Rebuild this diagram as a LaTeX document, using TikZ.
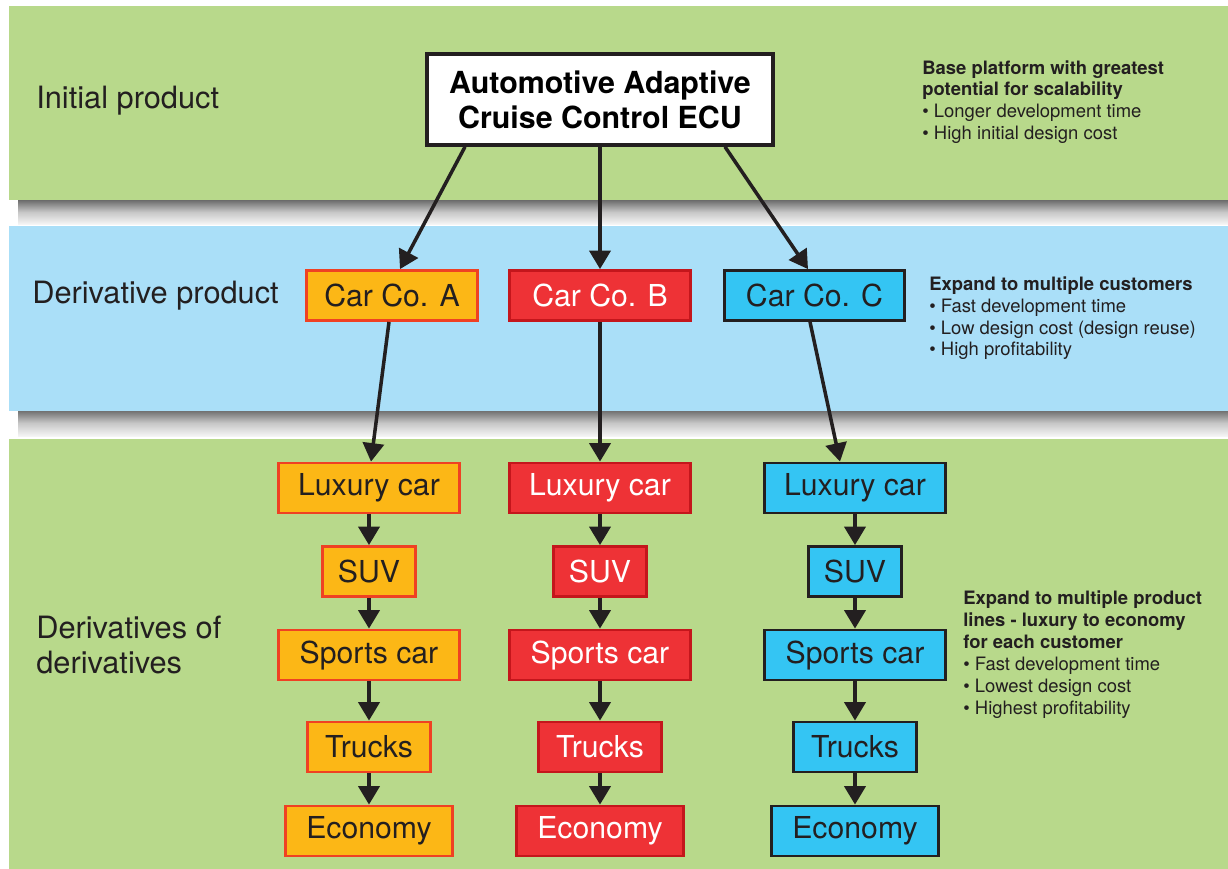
\documentclass[tikz,border=0pt]{standalone}
\usepackage{fontspec}
\setmainfont{TeX Gyre Heros}
\usetikzlibrary{arrows.meta}
\definecolor{bandgreen}{HTML}{B8D98B}
\definecolor{bandblue}{HTML}{AADFF8}
\definecolor{coAfill}{HTML}{FCB716}
\definecolor{coAline}{HTML}{EF4123}
\definecolor{coBfill}{HTML}{EE3236}
\definecolor{coBline}{HTML}{C4161C}
\definecolor{coCfill}{HTML}{34C5F3}
\definecolor{inkblack}{HTML}{231F20}
\tikzset{
  bandshadow/.style={top color=black!58, bottom color=black!4, middle color=black!22, draw=none},
  box/.style={draw, line width=1.6pt, inner sep=0pt, minimum height=1.0cm,
    font=\fontsize{17.2}{20}\selectfont},
  coA/.style={box, fill=coAfill, draw=coAline, text=inkblack},
  coB/.style={box, fill=coBfill, draw=coBline, text=white},
  coC/.style={box, fill=coCfill, draw=inkblack, text=inkblack},
  widebox/.style={minimum width=3.62cm},
  suvbox/.style={minimum width=1.86cm},
  truckbox/.style={minimum width=2.46cm},
  econbox/.style={minimum width=3.34cm},
  flow/.style={draw=inkblack, line width=2pt, -{Triangle[width=12pt,length=10.5pt]}},
  rowlabel/.style={anchor=west, inner sep=0pt, align=left,
    font=\fontsize{17.5}{19.8}\selectfont, text=inkblack},
  note/.style={anchor=north west, inner sep=0pt, align=left,
    font=\fontsize{10.5}{12.4}\selectfont, text=inkblack},
}
\begin{document}
\begin{tikzpicture}[x=0.02cm,y=-0.02cm]
  \useasboundingbox (0,0) rectangle (1228,869);
  % bands and their shadows
  \shade[bandshadow] (18,200) rectangle (1228,224);
  \shade[bandshadow] (18,410) rectangle (1228,436);
  \fill[bandgreen] (9,6) rectangle (1228,200);
  \fill[bandblue] (9,226) rectangle (1228,411);
  \fill[bandgreen] (9,439) rectangle (1228,869);

  % row labels
  \node[rowlabel] (initlbl) at (36,101) {Initial product};
  \node[rowlabel] (derivlbl) at (32,296) {Derivative product};
  \node[rowlabel] (dderivlbl) at (36,645) {Derivatives of\\derivatives};

  % side notes
  \node[note] (note1) at (922,60) {\textbf{Base platform with greatest}\\
    \textbf{potential for scalability}\\• Longer development time\\• High initial design cost};
  \node[note] (note2) at (929,276.5) {\textbf{Expand to multiple customers}\\
    • Fast development time\\• Low design cost (design reuse)\\• High profitability};
  \node[note, font=\fontsize{10.5}{12.6}\selectfont] (note3) at (963,590) {\textbf{Expand to multiple product}\\
    \textbf{lines - luxury to economy}\\\textbf{for each customer}\\
    • Fast development time\\• Lowest design cost\\• Highest profitability};

  % top product
  \node[box, fill=white, draw=inkblack, line width=2pt, minimum width=6.92cm, minimum height=1.82cm,
    align=center, font=\fontsize{17.3}{19.8}\selectfont\bfseries] (title) at (600,99.5)
    {Automotive Adaptive\\Cruise Control ECU};

  % customers
  \node[coA, minimum width=3.42cm] (carA) at (392,295.5) {Car Co. A};
  \node[coB, widebox] (carB) at (600,295.5) {Car Co. B};
  \node[coC, minimum width=3.6cm] (carC) at (814.5,295.5) {Car Co. C};

  \draw[flow] ([xshift=-2.7cm]title.south) -- ([xshift=0.16cm]carA.north);
  \draw[flow] (title.south) -- (carB.north);
  \draw[flow] ([xshift=2.5cm]title.south) -- ([xshift=-0.13cm]carC.north);

  % product lines per customer
  \foreach \col/\x in {A/369,B/600,C/855}{
    \node[co\col, widebox] (lux\col) at (\x,488) {Luxury car};
    \node[co\col, suvbox] (suv\col) at (\x,571.5) {SUV};
    \node[co\col, widebox] (sports\col) at (\x,655) {Sports car};
    \node[co\col, truckbox] (trucks\col) at (\x,747) {Trucks};
    \node[co\col, econbox] (econ\col) at (\x,831) {Economy};
    \draw[flow] (lux\col) -- (suv\col);
    \draw[flow] (suv\col) -- (sports\col);
    \draw[flow] (sports\col) -- (trucks\col);
    \draw[flow] (trucks\col) -- (econ\col);
  }

  \draw[flow] ([xshift=-0.06cm]carA.south) -- ([xshift=0.04cm]luxA.north);
  \draw[flow] (carB.south) -- (luxB.north);
  \draw[flow] ([xshift=-0.09cm]carC.south) -- ([xshift=-0.3cm]luxC.north);
\end{tikzpicture}
\end{document}
